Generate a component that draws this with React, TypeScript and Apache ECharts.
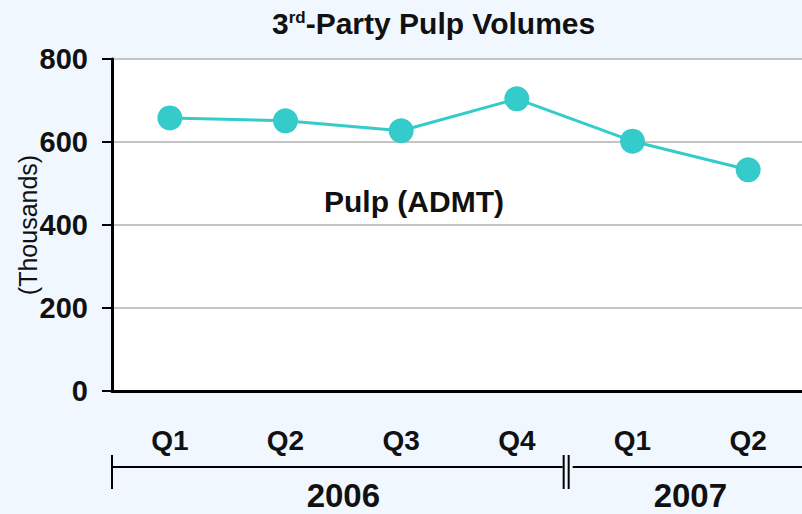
import React, { useEffect, useRef } from "react";
import * as echarts from "echarts";

const quarters = ["Q1", "Q2", "Q3", "Q4", "Q1", "Q2"];
const pulpValues = [658, 651, 627, 704, 602, 533];
const yearGroups = ["2006", "2007"];
const yearSpans = [4, 2];
const seriesName = "Pulp (ADMT)";
const yTicks = [0, 200, 400, 600, 800];

const FONT = "'Liberation Sans', Arial, sans-serif";

export default function App() {
  const ref = useRef<HTMLDivElement>(null);
  useEffect(() => {
    if (!ref.current) return;
    const chart = echarts.init(ref.current, null, { renderer: "svg" });
    chart.setOption({
      animation: false,
      backgroundColor: "#F0F7FE",
      title: {
        left: 267,
        top: 3,
        text: "{a|3}{b|rd}{a|-Party Pulp Volumes}",
        textStyle: {
          rich: {
            a: { fontFamily: FONT, fontSize: 30, fontWeight: "bold", color: "#111" },
            b: { fontFamily: FONT, fontSize: 17, fontWeight: "bold", color: "#111", padding: [0, 0, 12, 0] },
          },
        },
      },
      legend: {
        left: 314,
        top: 181,
        icon: "none",
        itemWidth: 0,
        itemHeight: 0,
        itemGap: 0,
        data: [seriesName],
        textStyle: { fontFamily: FONT, fontSize: 30, fontWeight: "bold", color: "#111" },
      },
      grid: {
        left: 112,
        top: 59,
        width: 694,
        height: 332,
        show: true,
        backgroundColor: "#ffffff",
        borderWidth: 0,
        containLabel: false,
        outerBoundsMode: "none",
      },
      xAxis: {
        type: "category",
        data: quarters,
        boundaryGap: true,
        axisLine: { lineStyle: { color: "#000", width: 3 } },
        axisTick: { length: 9, lineStyle: { color: "#000", width: 2 } },
        axisLabel: { margin: 35, fontFamily: FONT, fontSize: 28, fontWeight: "bold", color: "#111" },
      },
      yAxis: {
        type: "value",
        min: yTicks[0],
        max: yTicks[yTicks.length - 1],
        interval: 200,
        name: "(Thousands)",
        nameLocation: "middle",
        nameRotate: 90,
        nameGap: 84,
        nameMoveOverlap: false,
        nameTextStyle: { fontFamily: FONT, fontSize: 25, color: "#111", verticalAlign: "middle" },
        axisLine: { show: true, lineStyle: { color: "#000", width: 3 } },
        axisTick: { show: true, length: 10, lineStyle: { color: "#000", width: 2 } },
        axisLabel: { margin: 24, fontFamily: FONT, fontSize: 29, fontWeight: "bold", color: "#111" },
        splitLine: { lineStyle: { color: "#c4c4c4", width: 2 } },
      },
      series: [
        {
          name: seriesName,
          type: "line",
          data: pulpValues,
          symbol: "circle",
          symbolSize: 25,
          itemStyle: { color: "#36CBCB" },
          lineStyle: { color: "#36CBCB", width: 3 },
        },
      ],
    });

    // year group axis computed from the category scale
    const c0 = chart.convertToPixel({ xAxisIndex: 0 }, 0) as number;
    const c1 = chart.convertToPixel({ xAxisIndex: 0 }, 1) as number;
    const band = c1 - c0;
    const start = c0 - band / 2;
    const lineY = 467;
    const elems: any[] = [];
    let idx = 0;
    yearGroups.forEach((yr, g) => {
      const x0 = start + idx * band;
      const x1 = start + (idx + yearSpans[g]) * band;
      elems.push({
        type: "line",
        shape: { x1: g === 0 ? x0 : x0 - 2, y1: lineY, x2: g === 0 ? x1 - 12 : x1, y2: lineY },
        style: { stroke: "#000", lineWidth: 2 },
      });
      elems.push({
        type: "text",
        x: (x0 + x1) / 2,
        y: 495,
        style: {
          text: yr,
          fontFamily: FONT,
          fontSize: 33,
          fontWeight: "bold",
          fill: "#111",
          align: "center",
          verticalAlign: "middle",
        },
      });
      idx += yearSpans[g];
    });
    elems.push({
      type: "line",
      shape: { x1: start, y1: 455, x2: start, y2: 489 },
      style: { stroke: "#000", lineWidth: 2 },
    });
    const bx = start + yearSpans[0] * band;
    elems.push({ type: "line", shape: { x1: bx - 11, y1: 455, x2: bx - 11, y2: 489 }, style: { stroke: "#000", lineWidth: 2 } });
    elems.push({ type: "line", shape: { x1: bx - 6, y1: 455, x2: bx - 6, y2: 489 }, style: { stroke: "#000", lineWidth: 2 } });
    chart.setOption({ graphic: elems });

    return () => chart.dispose();
  }, []);
  return <div ref={ref} style={{ width: 802, height: 514, position: "absolute", left: 0, top: 0 }} />;
}
